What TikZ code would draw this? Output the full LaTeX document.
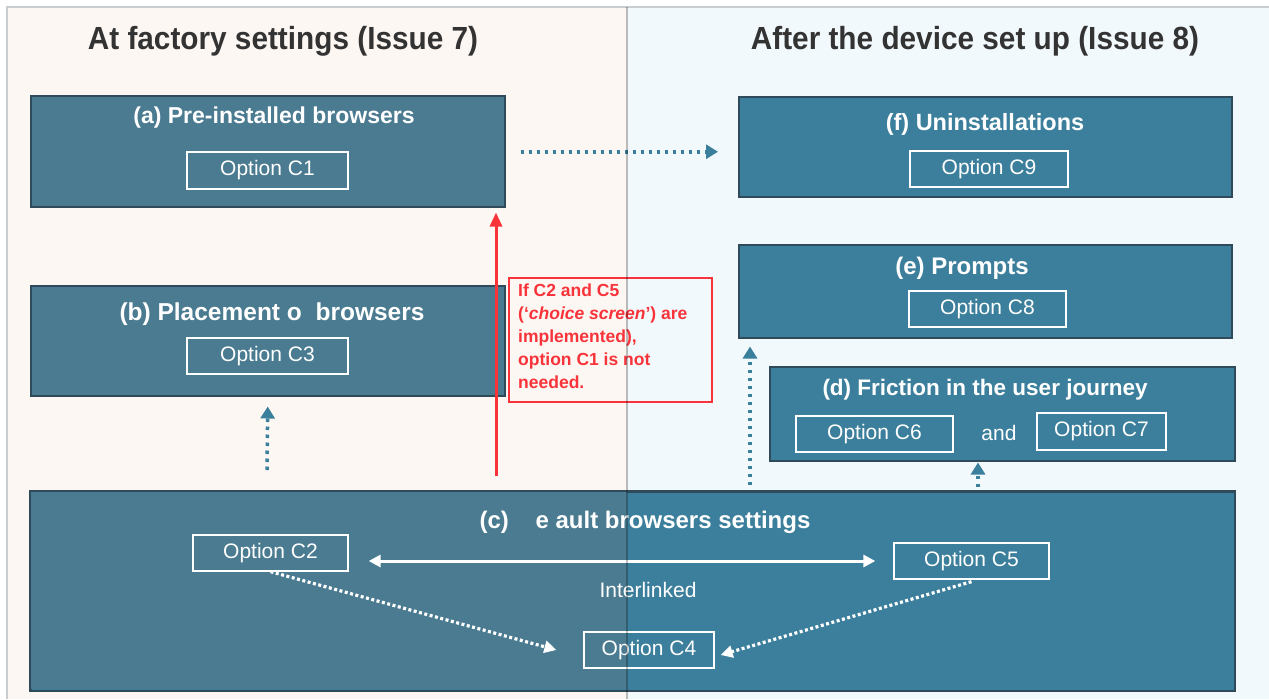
\documentclass[tikz,border=0pt]{standalone}
\usepackage{fontspec}
\setmainfont{Liberation Sans}
\newfontfamily\titlefont[FakeStretch=0.93]{Liberation Sans}
\usetikzlibrary{arrows.meta,calc}
\definecolor{leftbg}{HTML}{FDF7F3}
\definecolor{rightbg}{HTML}{F2F9FD}
\definecolor{leftbox}{HTML}{4A7B91}
\definecolor{rightbox}{HTML}{3C7F9C}
\definecolor{boxedge}{HTML}{2F4B5A}
\definecolor{titlecol}{HTML}{333333}
\definecolor{redcol}{HTML}{F8333A}
\definecolor{dotblue}{HTML}{3A7F9C}
\definecolor{framegrey}{HTML}{C9CDD0}
\tikzset{
  bigbox/.style={draw=boxedge, line width=1.5pt, rectangle, inner sep=0pt, anchor=north west},
  opt/.style={draw=white, line width=1.3pt, rectangle, inner sep=0pt, text=white, font=\fontsize{21}{23}\selectfont},
  boxtitle/.style={text=white, font=\bfseries\fontsize{#1}{26}\selectfont, inner sep=0pt},
  boxtitle/.default=23,
  paneltitle/.style={text=titlecol, font=\titlefont\bfseries\fontsize{32}{34}\selectfont, inner sep=0pt},
  bluedot/.style={draw=dotblue, line width=3.5pt, dash pattern=on 3.5pt off 4.5pt, -{Triangle[length=12pt,width=14pt,fill=dotblue]}},
  whitedot/.style={draw=white, line width=3.2pt, dash pattern=on 3pt off 2.5pt, -{Triangle[length=12pt,width=12pt,fill=white]}},
  plain/.style={text=white, font=\fontsize{21}{23}\selectfont, inner sep=0pt}
}
\begin{document}
\begin{tikzpicture}[x=1pt,y=-1pt]
\useasboundingbox (0,0) rectangle (1269,699);
% backgrounds
\fill[white] (0,0) rectangle (1269,699);
\fill[leftbg] (7,7) rectangle (627,699);
\fill[rightbg] (627,7) rectangle (1269,699);
\draw[framegrey, line width=1.5pt] (7,699) -- (7,7) -- (1269,7);

% panel titles
\node[paneltitle] (t1) at (283,41) {At factory settings (Issue 7)};
\node[paneltitle] (t2) at (975,41) {After the device set up (Issue 8)};

% boxes
\node[bigbox, fill=leftbox, minimum width=474pt, minimum height=111pt] (a) at (30,95) {};
\node[boxtitle=23] (at) at (274,118) {(a) Pre-installed browsers};
\node[opt, minimum width=161pt, minimum height=37pt] (c1) at (267.5,170.5) {Option C1};

\node[bigbox, fill=leftbox, minimum width=474pt, minimum height=110pt] (b) at (30,285) {};
\node[boxtitle=24.5] (bt) at (272,314) {(b) Placement o\ \ browsers};
\node[opt, minimum width=161pt, minimum height=36pt] (c3) at (267.5,356) {Option C3};

\node[bigbox, fill=rightbox, minimum width=493pt, minimum height=100pt] (f) at (738,96) {};
\node[boxtitle=23.5] (ft) at (985,124) {(f) Uninstallations};
\node[opt, minimum width=158pt, minimum height=36pt] (c9) at (989,169) {Option C9};

\node[bigbox, fill=rightbox, minimum width=493pt, minimum height=93pt] (e) at (738,244) {};
\node[boxtitle=24] (et) at (962,268) {(e) Prompts};
\node[opt, minimum width=157pt, minimum height=36pt] (c8) at (987.5,309) {Option C8};

\node[bigbox, fill=rightbox, minimum width=465pt, minimum height=94pt] (d) at (769,366) {};
\node[boxtitle=22.5] (dt) at (985,390) {(d) Friction in the user journey};
\node[opt, minimum width=157pt, minimum height=36pt] (c6) at (874.5,434) {Option C6};
\node[plain] (and) at (999,433) {and};
\node[opt, minimum width=129pt, minimum height=37pt] (c7) at (1101.5,431.5) {Option C7};

\node[bigbox, fill=rightbox, minimum width=1204pt, minimum height=199pt] (c) at (30,491) {};
\fill[leftbox] ([shift={(0.75pt,-0.75pt)}]c.north west) rectangle (627,689.25);
\draw[boxedge, line width=1.5pt] (c.north west) rectangle (c.south east);
\node[boxtitle=24] (ct) at (645,522) {(c)\ \ \ \ e ault browsers settings};
\node[opt, minimum width=155pt, minimum height=36pt] (c2) at (270.5,553) {Option C2};
\node[opt, minimum width=155pt, minimum height=36pt] (c5) at (971.5,561) {Option C5};
\node[opt, minimum width=130pt, minimum height=36pt] (c4) at (649,650) {Option C4};
\node[plain] (il) at (648,590) {Interlinked};

% connectors in (c)
\draw[white, line width=3pt, {Triangle[length=12pt,width=12pt]}-{Triangle[length=12pt,width=12pt]}]
  ($(c2.east)+(20,8)$) -- ($(c5.west)+(-18,0)$);
\draw[whitedot] ($(c2.south)+(0,0)$) -- ($(c4.west)+(-27,0)$);
\draw[whitedot] ($(c5.south)+(0,2)$) -- ($(c4.east)+(6,5)$);

% blue dotted arrows
\draw[bluedot] ($(a.east)+(15,0.5)$) -- ($(f.west)+(-20,5)$);
\coordinate (bsrc) at (267,470);
\draw[bluedot] (bsrc) -- ($(b.south)+(0,10)$);
\coordinate (esrc) at (750,485);
\draw[bluedot] (esrc) -- (esrc |- {$(e.south)+(0,8)$});
\coordinate (dsrc) at (978,487);
\draw[bluedot] (dsrc) -- (dsrc |- {$(d.south)+(0,1)$});

% red arrow and note
\coordinate (rsrc) at (496,476);
\draw[redcol, line width=3pt, -{Triangle[length=14pt,width=12pt]}] (rsrc) -- (rsrc |- {$(a.south)+(0,5)$});
\node[draw=redcol, color=redcol, line width=1.6pt, anchor=north west, minimum width=203pt, minimum height=124pt, inner sep=0pt] (note) at (508,277) {};
\node[anchor=north west, text=redcol, font=\bfseries\fontsize{17.5}{23}\selectfont, align=left, inner sep=0pt] (notetext) at (518,284)
  {If C2 and C5\\(`\textit{choice screen}') are\\implemented),\\option C1 is not\\needed.};

% divider line
\draw[black, opacity=0.25, line width=1.5pt] (627,7) -- (627,699);
\end{tikzpicture}
\end{document}
